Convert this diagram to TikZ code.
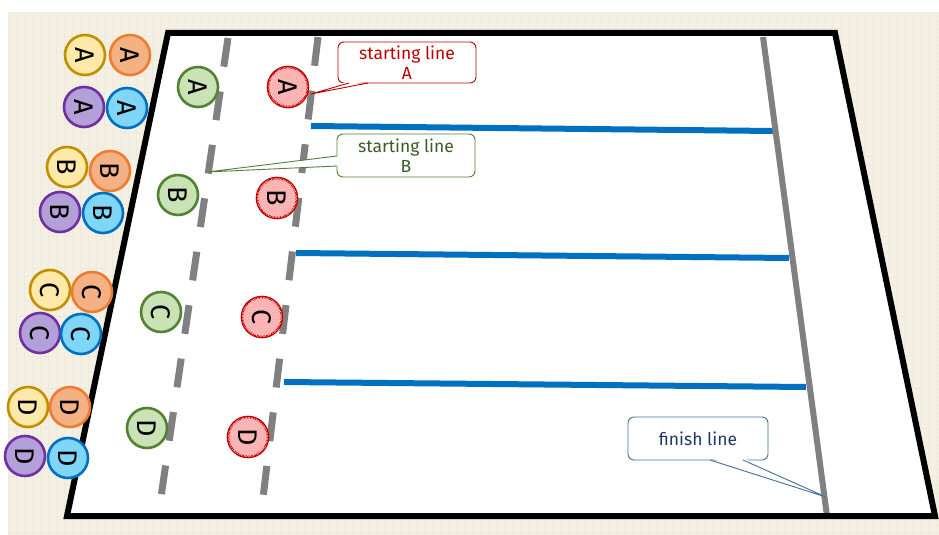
\documentclass[tikz,border=0pt]{standalone}
\usepackage{fontspec}
\setmainfont{Fira Sans}
\usetikzlibrary{patterns}
\definecolor{bg}{HTML}{F4F0E3}
\definecolor{gridc}{HTML}{EFEADB}
\definecolor{ylt}{HTML}{FFE9A8}\definecolor{ydk}{HTML}{BF9000}
\definecolor{olt}{HTML}{F4B183}\definecolor{odk}{HTML}{ED7D31}
\definecolor{plt}{HTML}{B4A0D8}\definecolor{pdk}{HTML}{7030A0}
\definecolor{blt}{HTML}{7FD6F7}\definecolor{bdk}{HTML}{0070C0}
\definecolor{glt}{HTML}{C9E3B6}\definecolor{gdk}{HTML}{548235}
\definecolor{rlt}{HTML}{F9C6C6}\definecolor{rdk}{HTML}{C00000}
\definecolor{lane}{HTML}{0070C0}
\definecolor{grayline}{HTML}{808080}
\definecolor{gtxt}{HTML}{3A5F22}
\definecolor{fbord}{HTML}{41719C}\definecolor{ftxt}{HTML}{1F3864}
\tikzset{
  tok/.style={circle, minimum size=40pt, inner sep=0pt, line width=2.6pt,
    font=\fontsize{27}{27}\selectfont, rotate=-90},
  ytok/.style={tok, draw=ydk, fill=ylt},
  otok/.style={tok, draw=odk, fill=olt},
  ptok/.style={tok, draw=pdk, fill=plt},
  btok/.style={tok, draw=bdk, fill=blt},
  gtok/.style={tok, draw=gdk, fill=glt},
  rtok/.style={tok, draw=rdk, fill=rlt, postaction={pattern=crosshatch, pattern color=red!35}},
  callout/.style={rectangle, rounded corners=6pt, fill=white, line width=0.9pt,
    align=center, font=\fontsize{17.5}{20}\selectfont, inner sep=1pt},
  startline/.style={grayline, line width=7pt, dash pattern=on 29pt off 25pt},
  lanel/.style={lane, line width=6pt},
}
\begin{document}
\begin{tikzpicture}[x=1pt,y=-1pt]
\useasboundingbox (0,0) rectangle (939,535);
% background
\fill[bg] (8,12) rectangle (939,535);
\foreach \gx in {8,16,...,936} \draw[gridc, line width=0.5pt] (\gx,12) -- (\gx,535);
\foreach \gy in {12,20,...,532} \draw[gridc, line width=0.5pt] (8,\gy) -- (939,\gy);
% field
\coordinate (f1) at (168,33);
\coordinate (f2) at (835,33);
\coordinate (f3) at (935,516);
\coordinate (f4) at (67,516);
\fill[white] (f1) -- (f2) -- (f3) -- (f4) -- cycle;
% lanes
\coordinate (l1a) at (311,126); \coordinate (l1b) at (773,131);
\coordinate (l2a) at (296,253); \coordinate (l2b) at (789,258);
\coordinate (l3a) at (284,382); \coordinate (l3b) at (806,387);
\draw[lanel] (l1a) -- (l1b);
\draw[lanel] (l2a) -- (l2b);
\draw[lanel] (l3a) -- (l3b);
% finish line
\coordinate (fin1) at (763,37); \coordinate (fin2) at (827,516);
\draw[grayline, line width=6pt] (fin1) -- (fin2);
% starting lines
\coordinate (sa1) at (318,37); \coordinate (sa2) at (263,498);
\coordinate (sb1) at (228,38); \coordinate (sb2) at (161,497);
\draw[startline] (sa1) -- (sa2);
\draw[startline] (sb1) -- (sb2);
% field border
\draw[black, line width=6pt, line join=miter] (f1) -- (f2) -- (f3) -- (f4) -- cycle;
% waiting tokens
\node[ytok] (yA) at (85,55) {A};
\node[otok] (oA) at (130,55) {A};
\node[ptok] (pA) at (84,107) {A};
\node[btok] (bA) at (127,108) {A};
\node[ytok] (yB) at (67,167) {B};
\node[otok] (oB) at (110,171) {B};
\node[ptok] (pB) at (60,212) {B};
\node[btok] (bB) at (103,213) {B};
\node[ytok] (yC) at (50,290) {C};
\node[otok] (oC) at (92,292) {C};
\node[ptok] (pC) at (40,333) {C};
\node[btok] (bC) at (81,334) {C};
\node[ytok] (yD) at (28,407) {D};
\node[otok] (oD) at (70,407) {D};
\node[ptok] (pD) at (25,456) {D};
\node[btok] (bD) at (68,458) {D};
% field tokens
\node[gtok] (gA) at (198,87) {A};
\node[rtok] (rA) at (288,87) {A};
\node[gtok] (gB) at (178,195) {B};
\node[rtok] (rB) at (277,198) {B};
\node[gtok] (gC) at (161,312) {C};
\node[rtok] (rC) at (262,317) {C};
\node[gtok] (gD) at (147,428) {D};
\node[rtok] (rD) at (248,437) {D};
% callout A
\node[callout, draw=rdk, text=rdk, minimum width=138pt, minimum height=41pt] (ca) at (407,62.5) {starting line\\A};
\coordinate (tipA) at (311,94);
\fill[white] (349,81) -- (tipA) -- (368,81) -- cycle;
\draw[rdk, line width=0.9pt] (349,83) -- (tipA) -- (368,83);
% callout B
\node[callout, draw=gdk, text=gtxt, minimum width=138pt, minimum height=43pt] (cb) at (406,155.5) {starting line\\B};
\coordinate (tipB) at (207,172);
\fill[white] (339,156) -- (tipB) -- (339,166) -- cycle;
\draw[gdk, line width=0.9pt] (337,156) -- (tipB) -- (337,166);
% callout finish
\node[callout, draw=fbord, text=ftxt, minimum width=140pt, minimum height=43pt] (cf) at (698,438.5) {finish line};
\coordinate (tipF) at (826,497);
\fill[white] (710,458) -- (tipF) -- (743,458) -- cycle;
\draw[fbord, line width=0.9pt] (710,460) -- (tipF) -- (743,460);
\end{tikzpicture}
\end{document}
